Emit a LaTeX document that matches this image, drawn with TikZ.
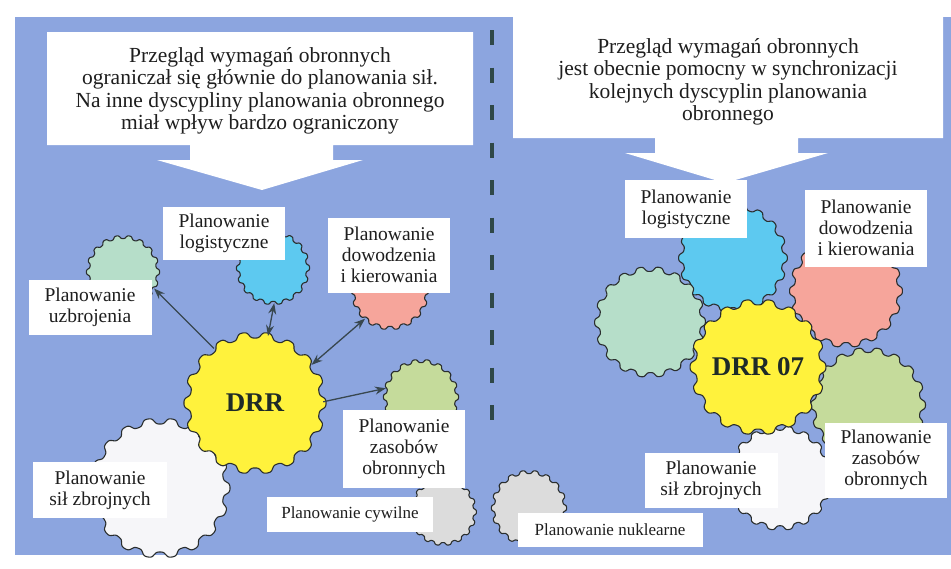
\documentclass[tikz,border=0pt]{standalone}
\usepackage{fontspec}
\setmainfont{Liberation Serif}
\usetikzlibrary{arrows.meta}
\definecolor{panel}{HTML}{8CA5DF}
\definecolor{gyellow}{HTML}{FFF23C}
\definecolor{gcyan}{HTML}{5DC9F0}
\definecolor{gsalmon}{HTML}{F6A59B}
\definecolor{gmint}{HTML}{B6DEC9}
\definecolor{golive}{HTML}{C5DB9B}
\definecolor{ggray}{HTML}{DCDCDC}
\definecolor{gwhite}{HTML}{F6F6F9}
\definecolor{gline}{HTML}{2A2E2E}
\definecolor{arrowcol}{HTML}{38474F}
\definecolor{dashcol}{HTML}{2F4848}
\definecolor{txt}{HTML}{1E1E1E}
\definecolor{drrtxt}{HTML}{1E2B28}
\newcommand{\mkgear}[7]{%
  \filldraw[draw=gline, line width=1.1pt, line join=round, fill=#5, shift={(#2,#3)}]
    plot[domain=0:360, samples=433] (\x:{#4+0.045*#4*tanh(1.6*cos(18*\x+#7))/0.9217}) -- cycle;
  \node[circle, inner sep=0pt, minimum size=#4*2pt, text=drrtxt,
        font=\fontsize{27}{30}\selectfont\bfseries] (#1) at (#2,#3) {#6};
}
\begin{document}
\begin{tikzpicture}[x=1pt,y=-1pt,
  lbl/.style={fill=white, inner sep=0pt, align=center, text=txt,
              font=\fontsize{19.5}{21}\selectfont},
  smalllbl/.style={lbl, font=\fontsize{17}{20}\selectfont},
  calltext/.style={inner sep=0pt, align=center, text=txt,
              font=\fontsize{21.5}{22.5}\selectfont},
  onearr/.style={draw=arrowcol, line width=1.3pt, -{Stealth[length=11pt,width=8pt]}},
  twoarr/.style={draw=arrowcol, line width=1.3pt, {Stealth[length=11pt,width=8pt]}-{Stealth[length=11pt,width=8pt]}}]
\useasboundingbox (0,0) rectangle (951,568);
\fill[white] (0,0) rectangle (951,568);
\fill[panel] (15,17) rectangle (951,555);

% divider
\draw[dashcol, line width=4pt, dash pattern=on 15pt off 22.5pt] (492,30) -- (492,420);

% callouts
\fill[white] (47,32) -- (473,32) -- (473,145) -- (333,145) -- (333,160) -- (363,160)
  -- (262,190) -- (157,160) -- (190,160) -- (190,145) -- (47,145) -- cycle;
\node[calltext] (cL) at (260,91) {Przegląd wymagań obronnych\\ograniczał się głównie do planowania sił.\\Na inne dyscypliny planowania obronnego\\miał wpływ bardzo ograniczony};
\fill[white] (513,17) -- (943,17) -- (943,138) -- (798,138) -- (798,153) -- (828,153)
  -- (725,183) -- (625,153) -- (655,153) -- (655,138) -- (513,138) -- cycle;
\node[calltext] (cR) at (728,82) {Przegląd wymagań obronnych\\jest obecnie pomocny w synchronizacji\\kolejnych dyscyplin planowania\\obronnego};

% left gears
\mkgear{gUzb}{123}{272}{35}{gmint}{}{0}
\mkgear{gLog}{273}{268}{35}{gcyan}{}{5}
\mkgear{gDow}{390}{291}{37}{gsalmon}{}{0}
\mkgear{gZas}{421}{397}{36}{golive}{}{0}
\mkgear{gCyw}{443}{512}{32}{ggray}{}{0}
\mkgear{gSil}{160}{488}{67}{gwhite}{}{0}
\mkgear{gDRR}{255}{403}{68}{gyellow}{DRR}{0}

% right gears
\mkgear{gLog2}{733}{258}{52}{gcyan}{}{0}
\mkgear{gDow2}{846}{291}{54}{gsalmon}{}{0}
\mkgear{gUzb2}{650}{322}{53}{gmint}{}{9}
\mkgear{gZas2}{868}{405}{55}{golive}{}{0}
\mkgear{gSil2}{780}{478}{50}{gwhite}{}{0}
\mkgear{gNuk}{529}{508}{36}{ggray}{}{0}
\mkgear{gDRR2}{758}{367}{65}{gyellow}{DRR 07}{0}

% left labels
\node[lbl, minimum width=123pt, minimum height=55pt] (lUzb) at (90,307) {Planowanie\\uzbrojenia};
\node[lbl, minimum width=122pt, minimum height=53pt] (lLog) at (224,233) {Planowanie\\logistyczne};
\node[lbl, minimum width=122pt, minimum height=75pt] (lDow) at (389,255) {Planowanie\\dowodzenia\\i kierowania};
\node[lbl, minimum width=122pt, minimum height=78pt] (lZas) at (404,449) {Planowanie\\zasobów\\obronnych};
\node[smalllbl, minimum width=166pt, minimum height=35pt] (lCyw) at (350,514) {Planowanie cywilne};
\node[lbl, minimum width=134pt, minimum height=56pt] (lSil) at (100,490) {Planowanie\\sił zbrojnych};

% right labels
\node[lbl, minimum width=122pt, minimum height=58pt] (rLog) at (686,209) {Planowanie\\logistyczne};
\node[lbl, minimum width=122pt, minimum height=77pt] (rDow) at (866,228) {Planowanie\\dowodzenia\\i kierowania};
\node[lbl, minimum width=122pt, minimum height=75pt] (rZas) at (886,460) {Planowanie\\zasobów\\obronnych};
\node[lbl, minimum width=133pt, minimum height=55pt] (rSil) at (711,480) {Planowanie\\sił zbrojnych};
\node[smalllbl, minimum width=185pt, minimum height=34pt] (rNuk) at (610,530) {Planowanie nuklearne};

% arrows
\draw[onearr] (gDRR.127) -- (gUzb.-28);
\draw[twoarr] (gDRR.79) -- (gLog.272);
\draw[twoarr] (gDRR.34) -- (gDow.228);
\draw[onearr] (gDRR.1) -- (gZas.166);
\end{tikzpicture}
\end{document}
